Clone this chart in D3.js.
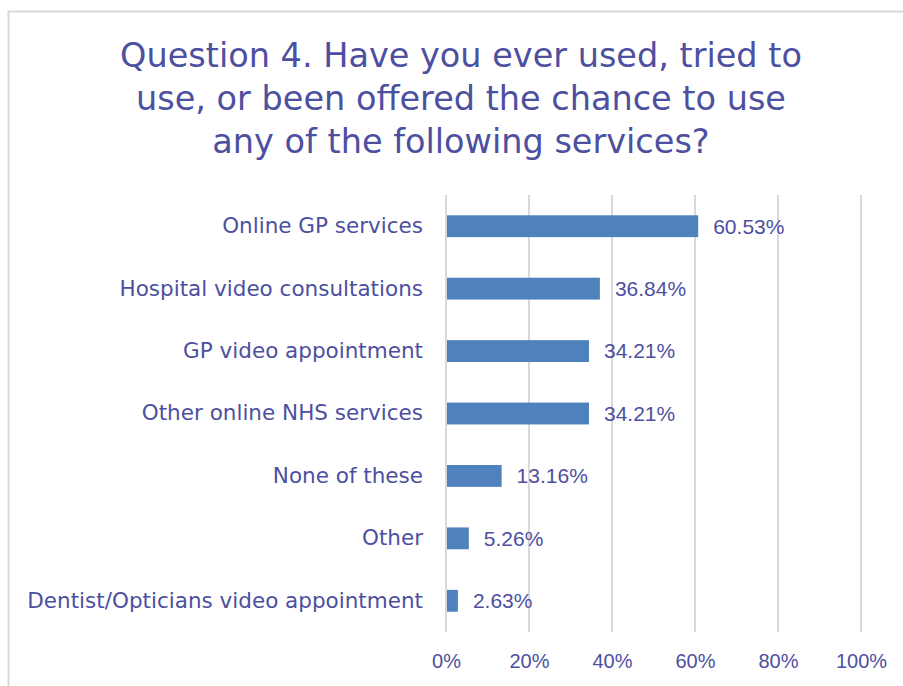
<!DOCTYPE html>
<html>
<head>
<meta charset="utf-8">
<script src="https://cdn.jsdelivr.net/npm/d3@7"></script>
<style>
  html, body { margin: 0; padding: 0; background: #fff; }
  svg { display: block; }
  text { font-family: "Liberation Sans", Arial, sans-serif; fill: #4d4f9f; }
  .words text { font-family: "DejaVu Sans", Verdana, sans-serif; }
</style>
</head>
<body>
<script>
// Survey responses, Question 4
const titleLines = [
  "Question 4. Have you ever used, tried to",
  "use, or been offered the chance to use",
  "any of the following services?"
];
const categories = [
  "Online GP services",
  "Hospital video consultations",
  "GP video appointment",
  "Other online NHS services",
  "None of these",
  "Other",
  "Dentist/Opticians video appointment"
];
const values = [60.53, 36.84, 34.21, 34.21, 13.16, 5.26, 2.63];
const tickValues = [0, 20, 40, 60, 80, 100];

const W = 903, H = 686;
const margin = { left: 446, right: 42, top: 195, bottom: 54 };

const svg = d3.select("body").append("svg")
  .attr("width", W).attr("height", H);

// chart frame
svg.append("rect")
  .attr("x", 8.5).attr("y", 11.5)
  .attr("width", 920).attr("height", 720)
  .attr("fill", "none").attr("stroke", "#d9d9d9").attr("stroke-width", 2);

// title
svg.append("g").attr("class", "words").selectAll("text")
  .data(titleLines).join("text")
  .attr("x", 461)
  .attr("y", (d, i) => 67 + i * 43)
  .attr("text-anchor", "middle")
  .attr("font-size", 33.5)
  .text(d => d);

const x = d3.scaleLinear().domain([0, 100]).range([margin.left, W - margin.right]);
const y = d3.scaleBand().domain(categories)
  .range([margin.top, H - margin.bottom])
  .paddingInner(0.65).paddingOuter(0.325);

// vertical gridlines
svg.append("g").selectAll("line")
  .data(tickValues).join("line")
  .attr("x1", d => x(d)).attr("x2", d => x(d))
  .attr("y1", margin.top).attr("y2", H - margin.bottom)
  .attr("stroke", "#d9d9d9").attr("stroke-width", 2);

// x axis labels
const xAxis = d3.axisBottom(x).tickValues(tickValues)
  .tickFormat(d => d + "%").tickSize(0).tickPadding(0);
const gx = svg.append("g")
  .attr("transform", `translate(0,${H - margin.bottom + 22})`)
  .call(xAxis);
gx.select(".domain").remove();
gx.selectAll("text")
  .attr("font-size", 20)
  .attr("font-family", null)
  .attr("fill", null);

// category axis
const yAxis = d3.axisLeft(y).tickSize(0).tickPadding(23);
const gy = svg.append("g")
  .attr("class", "words")
  .attr("transform", `translate(${margin.left},0)`)
  .call(yAxis);
gy.select(".domain").remove();
gy.selectAll("text")
  .attr("font-size", 21.5)
  .attr("font-family", null)
  .attr("fill", null);

// bars
svg.append("g").selectAll("rect")
  .data(values).join("rect")
  .attr("x", x(0) + 1)
  .attr("y", (d, i) => y(categories[i]))
  .attr("width", d => x(d) - x(0))
  .attr("height", y.bandwidth())
  .attr("fill", "#4f81bd");

// value labels
svg.append("g").selectAll("text")
  .data(values).join("text")
  .attr("x", d => x(d) + 16)
  .attr("y", (d, i) => y(categories[i]) + y.bandwidth() / 2)
  .attr("dy", "0.35em")
  .attr("font-size", 21)
  .text(d => d.toFixed(2) + "%");
</script>
</body>
</html>
